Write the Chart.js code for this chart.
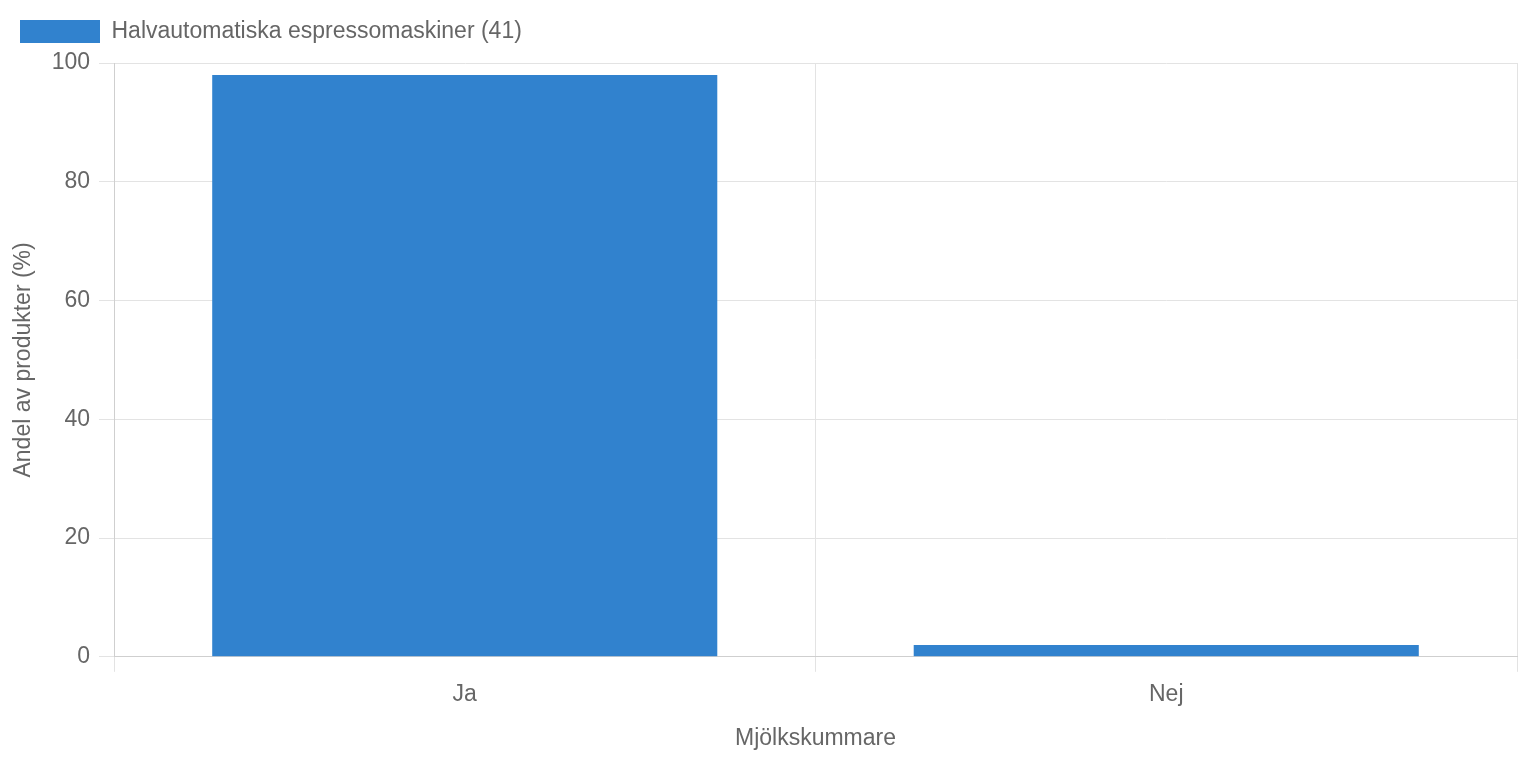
<!DOCTYPE html>
<html>
<head>
<meta charset="utf-8">
<script src="https://cdn.jsdelivr.net/npm/chart.js@4"></script>
<style>
  html, body { margin: 0; padding: 0; background: #fff; }
  #wrap { width: 1518px; height: 758px; }
</style>
</head>
<body>
<div id="wrap"><canvas id="myChart"></canvas></div>
<script>
// data
const categories = ['Ja', 'Nej'];
const shareValues = [98, 2];
const seriesLabel = 'Halvautomatiska espressomaskiner (41)';
const yTicks = [0, 20, 40, 60, 80, 100];

const fontFamily = '"Liberation Sans", Arial, Helvetica, sans-serif';
const textColor = '#666';
const fontSize = 23;

function createBarChart() {
  const ctx = document.getElementById('myChart').getContext('2d');
  return new Chart(ctx, {
    type: 'bar',
    data: {
      labels: categories,
      datasets: [{
        label: seriesLabel,
        data: shareValues,
        backgroundColor: '#3182ce',
        borderWidth: 0
      }]
    },
    options: {
      responsive: true,
      maintainAspectRatio: false,
      animation: false,
      layout: { padding: { left: 10, top: 10, right: 1, bottom: 6 } },
      plugins: {
        legend: {
          align: 'start',
          labels: {
            boxWidth: 80,
            boxHeight: 23,
            padding: 10,
            color: textColor,
            font: { family: fontFamily, size: fontSize }
          }
        },
        tooltip: { enabled: false }
      },
      scales: {
        x: {
          grid: { color: '#e3e3e3', tickLength: 15, offset: true },
          border: { color: '#cfcfcf' },
          ticks: { color: textColor, padding: 9, font: { family: fontFamily, size: fontSize } },
          title: {
            display: true,
            text: 'Mjölkskummare',
            color: textColor,
            padding: { top: 7, bottom: 0 },
            font: { family: fontFamily, size: fontSize }
          }
        },
        y: {
          min: 0,
          max: 100,
          afterBuildTicks: axis => { axis.ticks = yTicks.map(v => ({ value: v })); },
          afterFit: axis => { axis.width = 104; },
          grid: { color: '#e3e3e3', tickLength: 15 },
          border: { color: '#cfcfcf' },
          ticks: { color: textColor, padding: 9, font: { family: fontFamily, size: fontSize } },
          title: {
            display: true,
            text: 'Andel av produkter (%)',
            color: textColor,
            padding: { top: 0, bottom: 6 },
            font: { family: fontFamily, size: fontSize }
          }
        }
      }
    },
    plugins: [{
      id: 'legendGap',
      beforeInit(chart) {
        const origFit = chart.legend.fit;
        chart.legend.fit = function () {
          origFit.bind(chart.legend)();
          this.height += 10;
        };
      }
    }]
  });
}

createBarChart();
</script>
</body>
</html>
